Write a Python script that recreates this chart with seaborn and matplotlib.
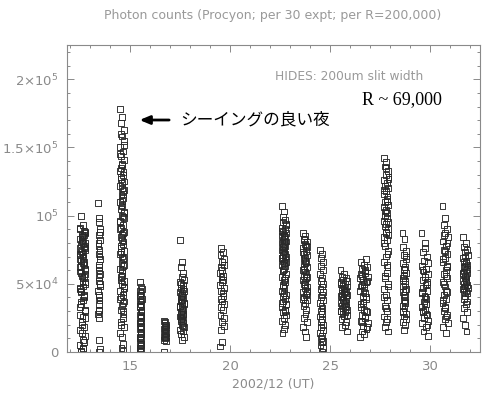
import numpy as np
import pandas as pd
import matplotlib
matplotlib.use("Agg")
import matplotlib.pyplot as plt
import seaborn as sns
from matplotlib.ticker import MultipleLocator, FixedLocator

# observing nights (day of 2002/12, UT): first and last exposure
night_start = [12.48, 13.42, 14.50, 15.48, 16.70, 17.50, 19.50, 22.58, 23.64,
               24.50, 25.52, 26.50, 27.68, 28.62, 29.57, 30.62, 31.64]
night_end = [12.78, 13.50, 14.72, 15.58, 16.80, 17.70, 19.72, 22.80, 23.86,
             24.66, 25.86, 26.88, 27.92, 28.80, 29.90, 30.88, 31.88]

# photon counts per exposure, in units of 1000
counts = [
    [72, 65, 58, 80, 84, 88, 91, 86, 79, 75, 70, 62, 55, 48, 44, 60, 68, 73, 77, 82,
     85, 90, 93, 100, 87, 81, 76, 71, 66, 63, 57, 52, 47, 41, 38, 35, 30, 27, 22, 18,
     14, 9, 5, 2, 0, 12, 20, 25, 33, 40, 45, 50, 54, 59, 64, 69, 74, 78, 83, 86,
     89, 84, 80, 76, 72, 67, 61, 56, 51, 46, 42, 37, 31, 26, 16, 7, 3, 1],
    [109, 98, 95, 90, 86, 82, 78, 75, 72, 68, 64, 60, 57, 55, 52, 48, 45, 42, 38, 35,
     31, 28, 25, 9, 2, 0, 88, 80, 70, 62, 50, 40, 30],
    [178, 172, 168, 163, 158, 155, 150, 147, 144, 141, 138, 135, 132, 130, 127, 125,
     122, 120, 118, 115, 113, 110, 108, 105, 103, 100, 98, 96, 93, 91, 88, 86, 84, 81,
     79, 76, 74, 72, 70, 68, 65, 63, 61, 58, 55, 52, 50, 47, 45, 42, 40, 37, 34, 31,
     28, 25, 22, 18, 14, 11, 6, 3, 1, 145, 137, 128, 119, 111, 102, 95, 87, 78, 69,
     60, 53, 44, 36, 160, 152, 133, 124, 116, 107, 99, 90, 82, 73, 64, 56, 48, 39, 30, 20],
    [51, 48, 45, 43, 41, 39, 37, 35, 33, 31, 29, 27, 25, 23, 21, 19, 17, 15, 13, 11,
     9, 7, 5, 3, 1, 0, 46, 42, 38, 34, 30, 26, 22, 18, 14, 10, 6, 2],
    [23, 22, 21, 20, 19, 18, 17, 16, 15, 14, 13, 12, 11, 10, 9, 8, 0, 20, 17, 14, 11],
    [82, 66, 62, 58, 55, 53, 51, 49, 47, 45, 43, 41, 40, 38, 37, 35, 34, 32, 31, 29,
     28, 26, 25, 23, 22, 20, 18, 16, 15, 13, 11, 9, 50, 46, 42, 39, 36, 33, 30, 27,
     24, 21, 44, 36, 28, 19],
    [4, 7, 16, 19, 22, 25, 27, 31, 33, 35, 37, 39, 41, 43, 45, 47, 49, 51, 53, 55,
     56, 58, 60, 62, 64, 66, 68, 71, 73, 76],
    [107, 103, 99, 97, 95, 93, 91, 90, 88, 87, 86, 85, 84, 83, 82, 81, 80, 79, 78, 77,
     76, 75, 74, 73, 72, 71, 70, 69, 68, 67, 66, 65, 64, 63, 61, 59, 57, 55, 53, 51,
     49, 47, 45, 43, 41, 39, 37, 35, 33, 31, 29, 27, 25, 23, 20, 17, 14, 94, 89, 85,
     81, 77, 73, 69, 65, 60, 54, 48, 42, 36, 30],
    [87, 85, 83, 81, 79, 77, 76, 74, 72, 71, 69, 68, 66, 65, 63, 62, 60, 59, 57, 56,
     54, 53, 51, 50, 48, 47, 45, 44, 42, 40, 38, 36, 34, 31, 28, 25, 22, 18, 15, 11,
     82, 78, 73, 67, 61, 55, 49, 43, 39],
    [75, 72, 69, 66, 63, 60, 57, 54, 52, 50, 48, 46, 44, 42, 40, 38, 36, 34, 32, 30,
     28, 26, 24, 22, 20, 18, 16, 14, 12, 10, 8, 7, 5, 3, 0],
    [60, 57, 55, 54, 53, 52, 51, 50, 49, 48, 47, 46, 45, 44, 43, 42, 41, 40, 39, 38,
     37, 36, 35, 34, 33, 32, 31, 30, 29, 28, 27, 26, 24, 22, 20, 18, 15, 50, 46, 42,
     38, 34, 30, 44, 40, 36],
    [11, 13, 15, 17, 19, 21, 23, 25, 27, 29, 31, 33, 30, 26, 22, 18, 35, 37, 39, 41,
     43, 45, 47, 49, 51, 53, 55, 57, 59, 61, 62, 64, 66, 68, 60, 56, 52, 48, 44, 40,
     36, 58, 54, 50],
    [142, 139, 136, 133, 130, 128, 126, 124, 122, 120, 118, 116, 114, 112, 110, 108,
     106, 104, 102, 100, 98, 96, 94, 92, 90, 88, 86, 84, 82, 78, 74, 70, 66, 62, 58,
     54, 50, 46, 42, 38, 34, 30, 26, 22, 18, 15, 135, 127, 119, 111, 103, 95, 87, 80,
     72, 64, 56, 48, 40, 32, 24],
    [87, 83, 77, 74, 71, 68, 65, 62, 60, 58, 56, 54, 52, 50, 48, 46, 44, 42, 40, 38,
     36, 34, 32, 30, 28, 26, 24, 22, 20, 16, 70, 61, 53, 45, 37, 29],
    [87, 80, 73, 70, 67, 65, 63, 61, 59, 57, 55, 53, 51, 49, 47, 45, 43, 41, 39, 37,
     35, 33, 31, 29, 27, 25, 23, 21, 18, 15, 12, 76, 60, 50, 40, 30, 20, 44, 36, 28],
    [107, 98, 93, 90, 87, 84, 81, 78, 75, 72, 69, 66, 63, 60, 57, 54, 51, 48, 45, 42,
     39, 36, 33, 30, 27, 24, 21, 18, 14, 86, 80, 74, 68, 62, 56, 50, 44, 38, 32, 26],
    [84, 80, 77, 75, 73, 71, 69, 67, 66, 64, 63, 62, 61, 60, 59, 58, 57, 56, 55, 54,
     53, 52, 51, 50, 49, 48, 47, 46, 45, 44, 43, 41, 39, 37, 35, 32, 29, 25, 20, 15,
     70, 65, 58, 52, 47],
]

ytick_vals = [0, 50000, 100000, 150000, 200000]
ytick_labels = ["0", r"$5{\times}10^4$", r"$10^5$", r"$1.5{\times}10^5$", r"$2{\times}10^5$"]
xtick_vals = [15, 20, 25, 30]

# where in the night each exposure falls (fraction of the night), repeated
slot_pattern = [0.0, 0.55, 0.25, 0.85, 0.4, 1.0, 0.1, 0.7, 0.3, 0.95, 0.5,
                0.15, 0.8, 0.6, 0.2, 0.9, 0.05, 0.45, 0.75, 0.35, 0.65]

rows = []
for s, e, vals in zip(night_start, night_end, counts):
    for i, v in enumerate(vals):
        frac = slot_pattern[i % len(slot_pattern)]
        rows.append((s + frac * (e - s), v * 1000))
df = pd.DataFrame(rows, columns=["day", "counts"])

sns.set_style("ticks")
plt.rcParams["font.family"] = ["DejaVu Sans", "Noto Sans CJK JP"]
grey = "#8a8a8a"

fig = plt.figure(figsize=(4.85, 3.98), dpi=100)
ax = fig.add_axes([0.138, 0.1156, 0.852, 0.771])

sns.scatterplot(data=df, x="day", y="counts", ax=ax, marker="s", s=18,
                facecolor="none", edgecolor="#2a2a2a", linewidth=0.65, legend=False)

ax.set_xlim(11.85, 32.5)
ax.set_ylim(0, 225000)
ax.xaxis.set_major_locator(FixedLocator(xtick_vals))
ax.xaxis.set_minor_locator(MultipleLocator(1))
ax.yaxis.set_major_locator(FixedLocator(ytick_vals))
ax.yaxis.set_minor_locator(MultipleLocator(10000))
ax.set_yticklabels(ytick_labels)
ax.tick_params(which="both", direction="in", top=True, right=True,
               color=grey, labelcolor=grey, labelsize=9.5, width=0.7)
ax.tick_params(which="major", length=5, pad=6)
ax.tick_params(which="minor", length=2.5)
for sp in ax.spines.values():
    sp.set_color(grey)
    sp.set_linewidth(0.8)

ax.set_xlabel("2002/12 (UT)", color=grey, fontsize=9, labelpad=3)
ax.set_ylabel("")

fig.text(0.563, 0.96, "Photon counts (Procyon; per 30 expt; per R=200,000)",
         ha="center", va="center", color="#999999", fontsize=9)
ax.text(0.504, 0.899, "HIDES: 200um slit width", transform=ax.transAxes,
        ha="left", va="center", color="#999999", fontsize=8.8)
ax.text(0.714, 0.821, "R ~ 69,000", transform=ax.transAxes, ha="left",
        va="center", color="black", fontsize=13, family="Liberation Serif")
ax.annotate("", xy=(0.169, 0.756), xytext=(0.254, 0.756), xycoords="axes fraction",
            arrowprops=dict(arrowstyle="-|>,head_length=0.6,head_width=0.25",
                            color="black", lw=2))
ax.text(0.274, 0.756, "シーイングの良い夜", transform=ax.transAxes, ha="left",
        va="center", color="black", fontsize=12,
        family=["Noto Sans CJK JP", "DejaVu Sans"])

fig.savefig("out.png", dpi=100, facecolor="white")
